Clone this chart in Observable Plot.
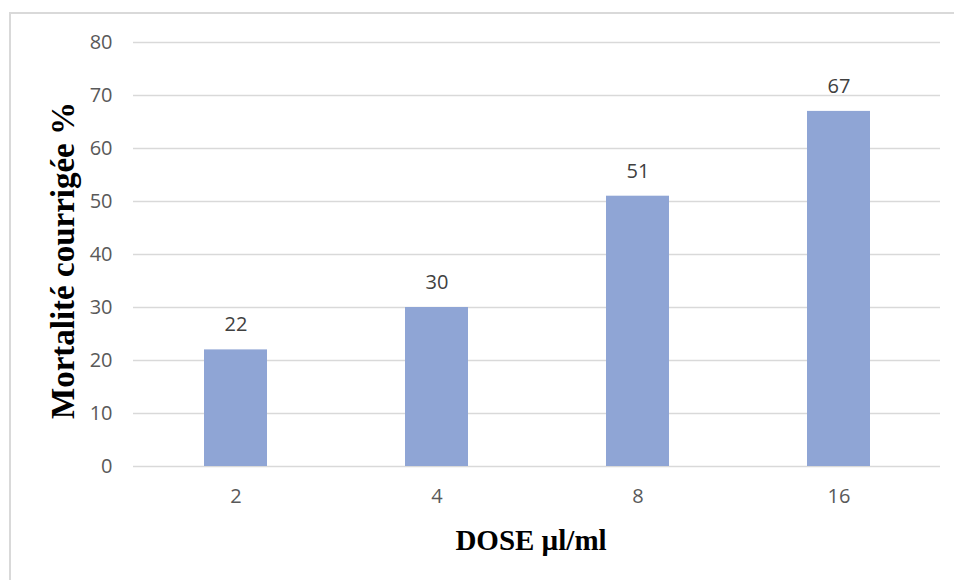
<!DOCTYPE html>
<html>
<head>
<meta charset="utf-8">
<script src="https://cdn.jsdelivr.net/npm/d3@7"></script>
<script src="https://cdn.jsdelivr.net/npm/@observablehq/plot@0.6"></script>
<style>
  html, body { margin: 0; padding: 0; background: #fff; overflow: hidden; }
  #wrap { position: relative; width: 954px; height: 580px; overflow: hidden; }
  #border { position: absolute; left: 9px; top: 12px; width: 1000px; height: 1000px; border: 2px solid #d9d9d9; box-sizing: border-box; }
  #chart { position: absolute; left: 0; top: 0; }
</style>
</head>
<body>
<div id="wrap"><div id="border"></div><div id="chart"></div></div>
<script>
const doses = ["2", "4", "8", "16"];
const mortality = [22, 30, 51, 67];
const yTicks = [0, 10, 20, 30, 40, 50, 60, 70, 80];
const xTitle = "DOSE µl/ml";
const yTitle = "Mortalité courrigée %";

const data = doses.map((d, i) => ({dose: d, value: mortality[i]}));
const serif = "'Liberation Serif', 'Times New Roman', serif";

const chart = Plot.plot({
  width: 954,
  height: 580,
  marginLeft: 133,
  marginRight: 14,
  marginTop: 42,
  marginBottom: 114,
  style: {fontFamily: "'Open Sans', sans-serif", fontSize: "20px", color: "#595959", background: "transparent"},
  x: {domain: doses, paddingInner: 0.688, paddingOuter: 0.344, label: null},
  y: {domain: [0, 80], ticks: yTicks, label: null},
  marks: [
    Plot.gridY(yTicks, {stroke: "#d9d9d9", strokeOpacity: 1, strokeWidth: 1.5}),
    Plot.barY(data, {x: "dose", y: "value", fill: "#8FA5D5"}),
    Plot.axisY({ticks: yTicks, tickSize: 0, tickPadding: 21, fontSize: 20, fill: "#595959", label: null}),
    Plot.axisX({tickSize: 0, tickPadding: 22, fontSize: 20, fill: "#595959", label: null}),
    Plot.text(data, {x: "dose", y: "value", text: d => String(d.value), dy: -25, fontSize: 20, fill: "#404040"}),
    Plot.text([xTitle], {frameAnchor: "bottom", textAnchor: "middle", lineAnchor: "middle", dx: -6, dy: 74, fontSize: 29, fontWeight: "bold", fontFamily: serif, fill: "#000"}),
    Plot.text([yTitle], {frameAnchor: "left", textAnchor: "middle", lineAnchor: "middle", dx: -70, dy: 6, rotate: -90, fontSize: 33, fontWeight: "bold", fontFamily: serif, fill: "#000"})
  ]
});
document.getElementById("chart").appendChild(chart);
</script>
</body>
</html>
